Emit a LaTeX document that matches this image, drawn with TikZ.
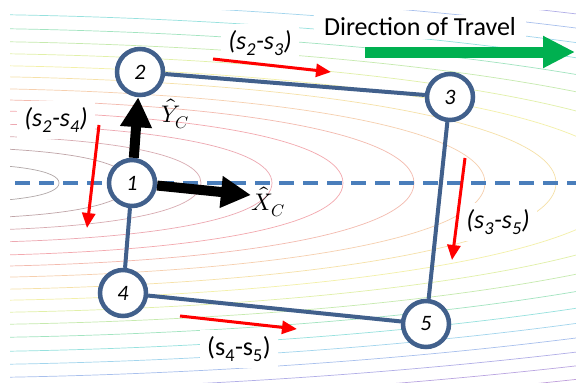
\documentclass[tikz,border=0pt]{standalone}
\usepackage{fontspec}
\usepackage{unicode-math}
\setmainfont{Carlito}
\setmathfont{Latin Modern Math}
\usetikzlibrary{arrows.meta}
\definecolor{nodeblue}{RGB}{65,96,140}
\definecolor{dashblue}{RGB}{74,126,187}
\definecolor{tgreen}{RGB}{0,176,80}
\definecolor{cc0}{RGB}{125,110,110}
\definecolor{cc1}{RGB}{150,105,110}
\definecolor{cc2}{RGB}{190,115,125}
\definecolor{cc3}{RGB}{225,110,125}
\definecolor{cc4}{RGB}{235,110,120}
\definecolor{cc5}{RGB}{235,140,120}
\definecolor{cc6}{RGB}{240,175,120}
\definecolor{cc7}{RGB}{240,205,110}
\definecolor{cc8}{RGB}{235,230,110}
\definecolor{cc9}{RGB}{205,230,110}
\definecolor{cc10}{RGB}{160,220,120}
\definecolor{cc11}{RGB}{100,210,150}
\definecolor{cc12}{RGB}{80,205,200}
\definecolor{cc13}{RGB}{100,185,225}
\definecolor{cc14}{RGB}{110,150,225}
\definecolor{cc15}{RGB}{125,120,215}
\definecolor{cc16}{RGB}{140,105,205}
\definecolor{cc17}{RGB}{150,95,195}
\begin{document}
\begin{tikzpicture}[x=1pt,y=-1pt,
  contour/.style={line width=0.7pt, opacity=0.6},
  nd/.style={circle, draw=nodeblue, line width=4.5pt, fill=white, minimum size=46pt, inner sep=0pt, font=\fontsize{22}{25}\selectfont\itshape},
  edge/.style={draw=nodeblue, line width=4pt},
  redarrow/.style={draw=red, line width=3pt, -{Triangle[length=15pt,width=13pt]}},
  blackarrow/.style={draw=black, line width=10pt, -{Triangle[length=30pt,width=30pt]}},
  lbl/.style={fill=white, inner xsep=7pt, inner ysep=6pt, font=\fontsize{26}{30}\selectfont},
  mlbl/.style={inner sep=0pt, font=\fontsize{24}{28}\selectfont},
  dashline/.style={draw=dashblue, line width=3.5pt, dash pattern=on 15pt off 9pt}]
\fill[white] (0,0) rectangle (576,384);
\useasboundingbox (0,0) rectangle (576,384);
% background contours
\begin{scope}
\clip (10,10) rectangle (576,382);
\foreach \k/\D in {0/20,1/36,2/48,3/60,4/73,5/84,6/95,7/107,8/118,9/130,10/142,11/155,12/169,13/182,14/195,15/208,16/221,17/234} {
  \pgfmathsetmacro\n{59+71*\k}
  \pgfmathsetmacro\a{-80+(0.72-0.02*\k)*(\n+80)}
  \pgfmathsetmacro\yt{183-\D}
  \pgfmathsetmacro\yb{183+\D}
  \pgfmathsetmacro\ct{183-0.6*\D}
  \pgfmathsetmacro\cb{183+0.6*\D}
  \draw[contour, color=cc\k] (-80,\yt) .. controls (\a,\yt) and (\n,\ct) .. (\n,183) .. controls (\n,\cb) and (\a,\yb) .. (-80,\yb);
}
\end{scope}
% dashed axis
\coordinate (d1) at (15,183);
\coordinate (d2) at (576,183);
\draw[dashline] (d1) -- (d2);
% nodes
\node[nd] (n1) at (132,183) {1};
\node[nd] (n2) at (140,72) {2};
\node[nd] (n3) at (450,97) {3};
\node[nd] (n4) at (123,293) {4};
\node[nd] (n5) at (426,324) {5};
% edges
\draw[edge] (n2) -- (n3);
\draw[edge] (n3) -- (n5);
\draw[edge] (n5) -- (n4);
\draw[edge] (n4) -- (n1);
% text boxes
\node[lbl] (t23) at (260,43) {\itshape (s\textsubscript{2}-s\textsubscript{3})};
\node[lbl] (t24) at (56,120) {\itshape (s\textsubscript{2}-s\textsubscript{4})};
\node[lbl] (t35) at (498,222) {\itshape (s\textsubscript{3}-s\textsubscript{5})};
\node[lbl] (t45) at (239,349) {(s\textsubscript{4}-s\textsubscript{5})};
\node[lbl, inner xsep=10pt, inner ysep=3pt] (tdir) at (420,27) {Direction of Travel};
% red difference arrows
\coordinate (r1s) at (213,59); \coordinate (r1e) at (331,72);
\coordinate (r2s) at (99,125); \coordinate (r2e) at (87,228);
\coordinate (r3s) at (465,158); \coordinate (r3e) at (452,260);
\coordinate (r4s) at (180,316); \coordinate (r4e) at (297,329);
\draw[redarrow] (r1s) -- (r1e);
\draw[redarrow] (r2s) -- (r2e);
\draw[redarrow] (r3s) -- (r3e);
\draw[redarrow] (r4s) -- (r4e);
% body axes
\coordinate (xtip) at (251,195);
\draw[blackarrow] (n1) -- (n2);
\draw[blackarrow] (n1) -- (xtip);
\node[mlbl] (ly) at (175,114) {$\hat{Y}_C$};
\node[mlbl] (lx) at (268,202) {$\hat{X}_C$};
% direction of travel arrow
\coordinate (g1) at (365,52);
\coordinate (g2) at (575,52);
\draw[draw=tgreen, line width=11pt, -{Triangle[length=32pt,width=30pt]}] (g1) -- (g2);
\end{tikzpicture}
\end{document}
